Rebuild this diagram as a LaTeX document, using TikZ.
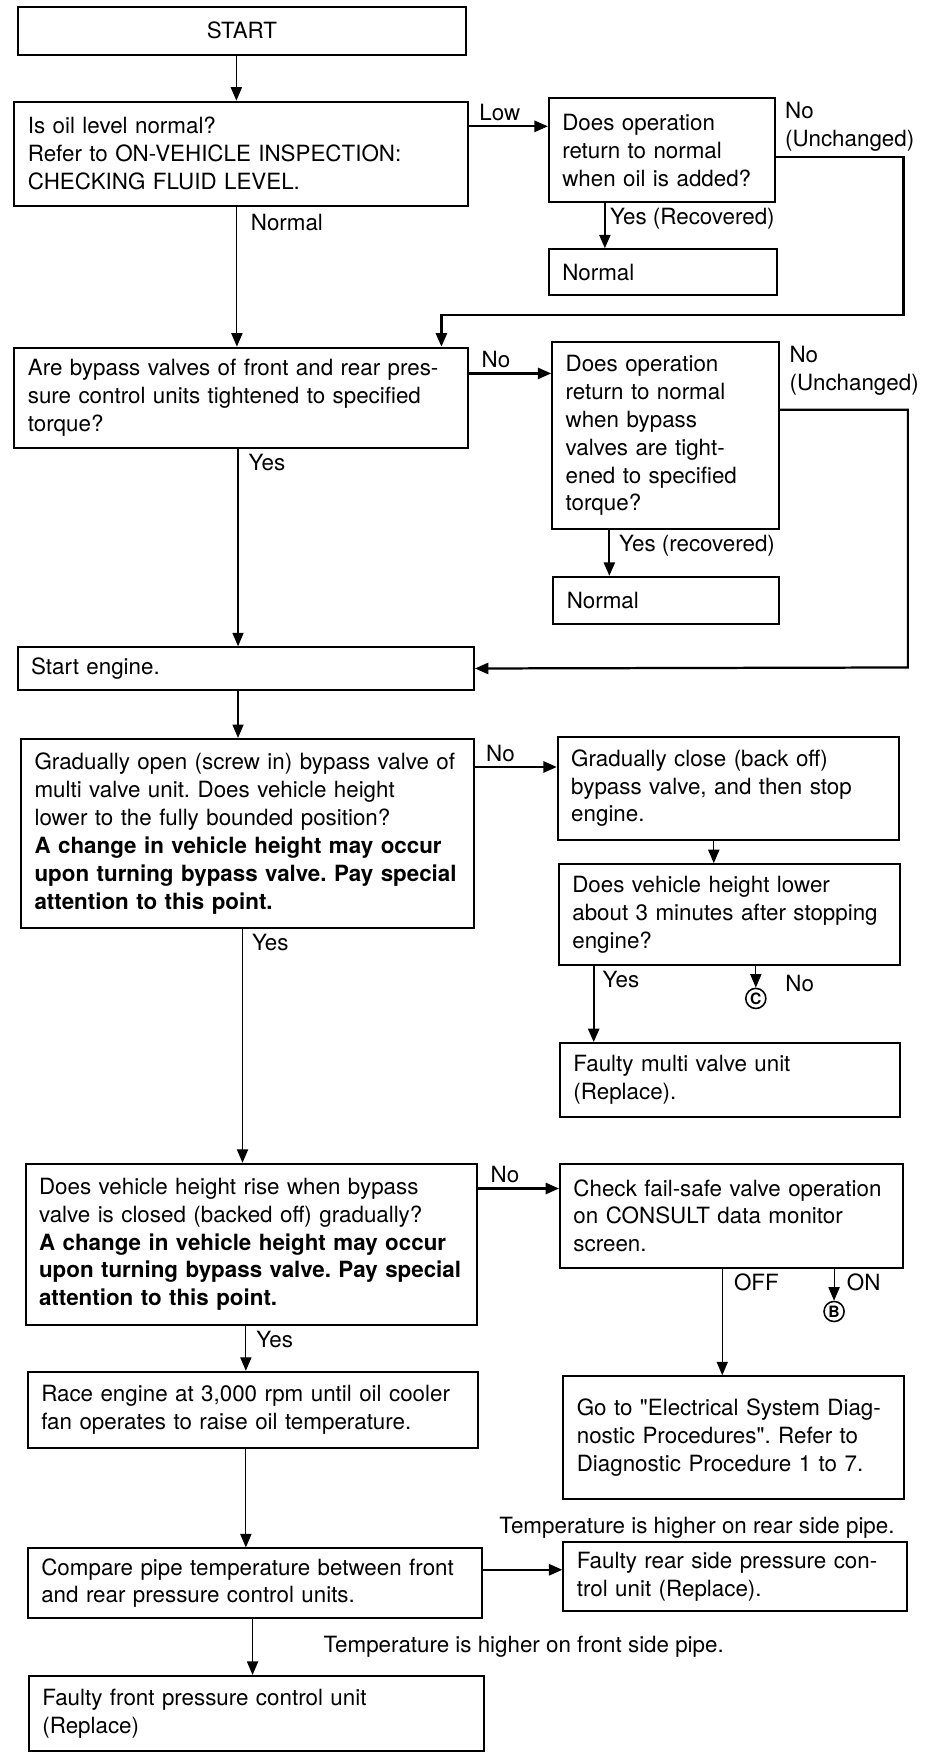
\documentclass[tikz,border=0pt]{standalone}
\usepackage{fontspec}
\setmainfont{TeX Gyre Heros}
\newfontfamily\rawfont{TeX Gyre Heros}
\usetikzlibrary{arrows.meta, positioning}
\frenchspacing

\tikzset{
  box/.style = {draw, line width=0.9pt, anchor=north west, align=left,
                inner xsep=6pt, inner ysep=0pt, font=\fontsize{10}{12.5}\selectfont},
  lbl/.style = {inner sep=2pt, align=left, font=\fontsize{10}{12.5}\selectfont},
  conn/.style = {circle, draw, line width=0.7pt, inner sep=0pt, minimum size=9pt,
                 font=\bfseries\fontsize{7}{7}\selectfont},
  arr/.style = {-{Triangle[length=6pt, width=5pt]}, line width=0.5pt},
  harr/.style = {arr, line width=1pt},
}
\newcommand{\dq}{{\rawfont"}}

\begin{document}
\begin{tikzpicture} [x=0.5pt, y=-0.5pt]
        \useasboundingbox (0,0) rectangle (830,1567);

        % left column
        \node (start) [box, align=center, minimum width=200.5pt, minimum height=21.5pt, text width=188.5pt] at (15,5) {START};
        \node (q1) [box, minimum width=203pt, minimum height=46.5pt, text width=191pt] at (12,90)
            {Is oil level normal?\\Refer to ON-VEHICLE INSPECTION:\\CHECKING FLUID LEVEL.};
        \node (q2) [box, minimum width=203pt, minimum height=45pt, text width=191pt] at (12,310)
            {Are bypass valves of front and rear pres-\\sure control units tightened to specified\\torque?};
        \node (se) [box, minimum width=204pt, minimum height=19pt, text width=192pt] at (15,578) {Start engine.};
        \node (q3) [box, minimum width=202.5pt, minimum height=84.5pt, text width=190.5pt] at (18,660)
            {Gradually open (screw in) bypass valve of\\multi valve unit. Does vehicle height\\lower to the fully bounded position?\\
             \textbf{A change in vehicle height may occur}\\\textbf{upon turning bypass valve. Pay special}\\\textbf{attention to this point.}};
        \node (q4) [box, minimum width=202pt, minimum height=72pt, text width=190pt] at (22,1040)
            {Does vehicle height rise when bypass\\valve is closed (backed off) gradually?\\
             \textbf{A change in vehicle height may occur}\\\textbf{upon turning bypass valve. Pay special}\\\textbf{attention to this point.}};
        \node (re) [box, minimum width=201.5pt, minimum height=34pt, text width=189.5pt] at (24,1226)
            {Race engine at 3,000 rpm until oil cooler\\fan operates to raise oil temperature.};
        \node (cp) [box, minimum width=203pt, minimum height=31pt, text width=191pt] at (24,1384)
            {Compare pipe temperature between front\\and rear pressure control units.};
        \node (ff) [box, minimum width=203.5pt, minimum height=33.5pt, text width=191.5pt] at (25,1498)
            {Faulty front pressure control unit\\(Replace)};

        % right column
        \node (a1) [box, minimum width=101pt, minimum height=46.5pt, text width=89pt] at (490,87)
            {Does operation\\return to normal\\when oil is added?};
        \node (n1) [box, minimum width=102pt, minimum height=20.5pt, text width=90pt] at (490,222) {Normal};
        \node (a2) [box, minimum width=101.5pt, minimum height=83.5pt, text width=89.5pt] at (493,305)
            {Does operation\\return to normal\\when bypass\\valves are tight-\\ened to specified\\torque?};
        \node (n2) [box, minimum width=101pt, minimum height=21pt, text width=89pt] at (494,515) {Normal};
        \node (gc) [box, minimum width=152.5pt, minimum height=46pt, text width=140.5pt] at (498,658)
            {Gradually close (back off)\\bypass valve, and then stop\\engine.};
        \node (dl) [box, minimum width=152.5pt, minimum height=45pt, text width=140.5pt] at (499,772)
            {Does vehicle height lower\\about 3 minutes after stopping\\engine?};
        \node (fm) [box, minimum width=152pt, minimum height=33pt, text width=140pt] at (500,932)
            {Faulty multi valve unit\\(Replace).};
        \node (cf) [box, minimum width=153.5pt, minimum height=46.5pt, text width=141.5pt] at (500,1040)
            {Check fail-safe valve operation\\on CONSULT data monitor\\screen.};
        \node (gt) [box, minimum width=152.5pt, minimum height=55pt, text width=140.5pt] at (503,1230)
            {Go to \dq Electrical System Diag-\\nostic Procedures\dq. Refer to\\Diagnostic Procedure 1 to 7.};
        \node (fr) [box, minimum width=153.5pt, minimum height=31pt, text width=141.5pt] at (503,1378)
            {Faulty rear side pressure con-\\trol unit (Replace).};

        \node (cC) [conn] at (676,893) {C};
        \node (cB) [conn] at (746,1173) {B};
        \coordinate (r1) at (808,282);
        \coordinate (r2) at (812,597);

        \node (nu1) [lbl, anchor=north west, xshift=2pt] at (a1.north east) {No\\(Unchanged)};
        \node (nu2) [lbl, anchor=north west, xshift=2pt] at (a2.north east) {No\\(Unchanged)};
        \node (trear) [lbl, anchor=south, inner sep=1pt] at ([xshift=-17pt]fr.north) {Temperature is higher on rear side pipe.};

        % connectors
        \path [arr] ([xshift=-2.5pt]start.south) edge ([xshift=-2.5pt]start.south |- q1.north);
        \path [harr] ([yshift=-11.5pt]q1.north east) edge node [lbl, anchor=south west, pos=0, xshift=2pt] {Low} ([yshift=-11.5pt]q1.north east -| a1.west);
        \path [arr, line width=0.8pt] ([xshift=25.5pt]a1.south west) edge node [lbl, anchor=north west, pos=0] {Yes (Recovered)} ([xshift=25.5pt]a1.south west |- n1.north);
        \path [arr] ([xshift=-2pt]q1.south) edge node [lbl, anchor=north west, pos=0, xshift=4pt, yshift=-1pt] {Normal} ([xshift=-2pt]q1.south |- q2.north);
        \draw [harr] ([yshift=-3pt]a1.east) -| (r1) -| ([xshift=-12.5pt]q2.north east);

        \path [harr] ([yshift=-12pt]q2.north east) edge node [lbl, anchor=south west, pos=0, xshift=3pt] {No} ([yshift=-12pt]q2.north east -| a2.west);
        \path [arr, line width=0.8pt] ([xshift=26pt]a2.south west) edge node [lbl, anchor=north west, pos=0, xshift=2pt] {Yes (recovered)} ([xshift=26pt]a2.south west |- n2.north);
        \path [arr] ([xshift=-1.5pt]q2.south) edge node [lbl, anchor=north west, pos=0, xshift=2.5pt] {Yes} ([xshift=-1.5pt]q2.south |- se.north);
        \draw [harr] ([yshift=11.5pt]a2.east) -| (r2) -- (se.east);

        \path [arr] ([xshift=-3.5pt]se.south) edge ([xshift=-3.5pt]se.south |- q3.north);
        \path [harr] ([yshift=-13pt]q3.north east) edge node [lbl, anchor=south west, pos=0, xshift=2.5pt] {No} ([yshift=-13pt]q3.north east -| gc.west);
        \path [arr] ([xshift=-6.5pt]gc.south) edge ([xshift=-6.5pt]gc.south |- dl.north);
        \path [harr] ([xshift=16pt]dl.south west) edge node [lbl, anchor=north west, pos=0, xshift=1.5pt] {Yes} ([xshift=16pt]dl.south west |- fm.north);
        \path [arr] ([xshift=88.5pt]dl.south west) edge node [lbl, anchor=north west, pos=0, xshift=11pt, yshift=-2pt] {No} (cC.north);
        \path [arr] ([xshift=-2.25pt]q3.south) edge node [lbl, anchor=north west, pos=0, xshift=2pt] {Yes} ([xshift=-2.25pt]q3.south |- q4.north);

        \path [harr] ([yshift=-11.5pt]q4.north east) edge node [lbl, anchor=south west, pos=0, xshift=3pt] {No} ([yshift=-11.5pt]q4.north east -| cf.west);
        \path [arr] ([xshift=73pt]cf.south west) edge node [lbl, anchor=north west, pos=0, xshift=3pt] {OFF} ([xshift=73pt]cf.south west |- gt.north);
        \path [arr] ([xshift=123pt]cf.south west) edge node [lbl, anchor=north west, pos=0, xshift=3.5pt] {ON} (cB.north);
        \path [arr] ([xshift=-2.5pt]q4.south) edge node [lbl, anchor=north west, pos=0, xshift=2.5pt] {Yes} ([xshift=-2.5pt]q4.south |- re.north);
        \path [arr] ([xshift=-3.25pt]re.south) edge ([xshift=-3.25pt]re.south |- cp.north);
        \path [harr] ([yshift=-10pt]cp.north east) edge ([yshift=-10pt]cp.north east -| fr.west);
        \path [arr] ([xshift=-1pt]cp.south) edge node [lbl, anchor=west, pos=0.5, xshift=29.5pt] {Temperature is higher on front side pipe.} ([xshift=-1pt]cp.south |- ff.north);

    \end{tikzpicture}
\end{document}
